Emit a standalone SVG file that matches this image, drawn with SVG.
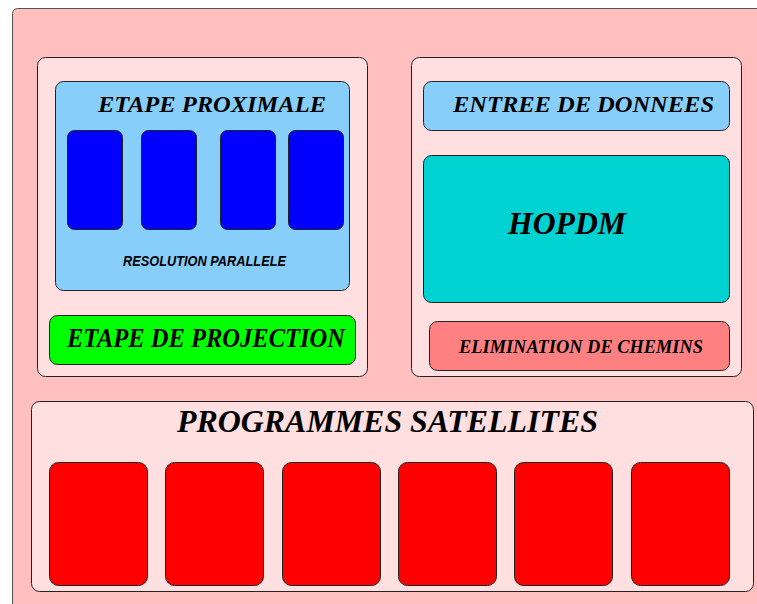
<svg xmlns="http://www.w3.org/2000/svg" width="757" height="604" viewBox="0 0 757 604">
<style>
.t{font-family:"Liberation Serif",serif;font-weight:bold;font-style:italic;fill:#000}
.s{font-family:"Liberation Sans",sans-serif;font-weight:bold;font-style:italic;fill:#000}
.b{stroke:#222;stroke-width:1}
</style>
<rect width="757" height="604" fill="#fff"/>
<g id="frame"><rect x="12.5" y="8.5" width="760" height="620" rx="5" fill="#ffbfbf" stroke="#555"/></g>
<g id="left-panel"><rect class="b" x="37.5" y="57.5" width="330" height="319" rx="8" fill="#ffdfdf"/></g>
<g id="proximale">
<rect class="b" x="55.5" y="81.5" width="294" height="209" rx="8" fill="#87cefa"/>
<text class="t" x="98" y="111.5" font-size="24" textLength="228" lengthAdjust="spacingAndGlyphs">ETAPE PROXIMALE</text>
<rect class="b" x="67.5" y="130.5" width="55" height="99" rx="7" fill="#0000ff"/>
<rect class="b" x="141.5" y="130.5" width="55" height="99" rx="7" fill="#0000ff"/>
<rect class="b" x="220.5" y="130.5" width="55" height="99" rx="7" fill="#0000ff"/>
<rect class="b" x="288.5" y="130.5" width="55" height="99" rx="7" fill="#0000ff"/>
<text class="s" x="123" y="266" font-size="14" textLength="163" lengthAdjust="spacingAndGlyphs">RESOLUTION PARALLELE</text>
</g>
<g id="projection">
<rect class="b" x="49.5" y="315.5" width="306" height="49" rx="8" fill="#00ff00"/>
<text class="t" x="67" y="347" font-size="27" textLength="278" lengthAdjust="spacingAndGlyphs">ETAPE DE PROJECTION</text>
</g>
<g id="right-panel"><rect class="b" x="411.5" y="57.5" width="330" height="319" rx="8" fill="#ffdfdf"/></g>
<g id="entree">
<rect class="b" x="423.5" y="81.5" width="306" height="49" rx="8" fill="#87cefa"/>
<text class="t" x="453" y="111.5" font-size="24" textLength="261" lengthAdjust="spacingAndGlyphs">ENTREE DE DONNEES</text>
</g>
<g id="hopdm">
<rect class="b" x="423.5" y="155.5" width="306" height="147" rx="8" fill="#00d2d2"/>
<text class="t" x="508" y="234" font-size="31" textLength="118" lengthAdjust="spacingAndGlyphs">HOPDM</text>
</g>
<g id="elimination">
<rect class="b" x="429.5" y="321.5" width="300" height="49" rx="8" fill="#ff8080"/>
<text class="t" x="459" y="352.5" font-size="19" textLength="244" lengthAdjust="spacingAndGlyphs">ELIMINATION DE CHEMINS</text>
</g>
<g id="satellites">
<rect class="b" x="31.5" y="401.5" width="722" height="190" rx="8" fill="#ffdfdf"/>
<text class="t" x="177" y="432" font-size="32" textLength="421" lengthAdjust="spacingAndGlyphs">PROGRAMMES SATELLITES</text>
<rect class="b" x="49.5" y="462.5" width="98" height="123" rx="9" fill="#ff0000"/>
<rect class="b" x="165.5" y="462.5" width="98" height="123" rx="9" fill="#ff0000"/>
<rect class="b" x="282.5" y="462.5" width="98" height="123" rx="9" fill="#ff0000"/>
<rect class="b" x="398.5" y="462.5" width="98" height="123" rx="9" fill="#ff0000"/>
<rect class="b" x="514.5" y="462.5" width="98" height="123" rx="9" fill="#ff0000"/>
<rect class="b" x="631.5" y="462.5" width="98" height="123" rx="9" fill="#ff0000"/>
</g>
<g id="connectors"/>
</svg>
